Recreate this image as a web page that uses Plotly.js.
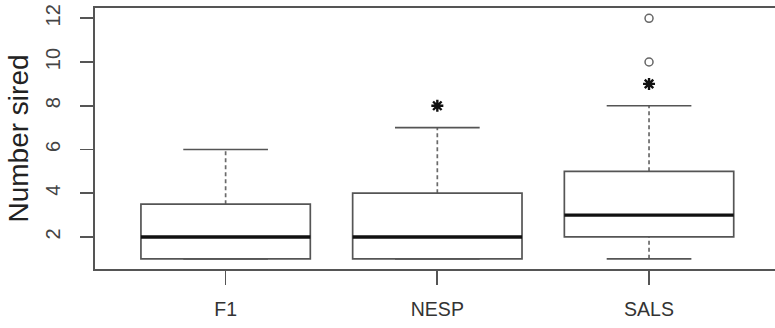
<!DOCTYPE html>
<html>
<head>
<meta charset="utf-8">
<script src="https://cdn.plot.ly/plotly-3.0.1.min.js"></script>
<style>html,body{margin:0;padding:0;background:#fff;}#chart{width:775px;height:328px;}</style>
</head>
<body>
<div id="chart"></div>
<script>
// Data
const categories = ['F1', 'NESP', 'SALS'];
const lowerWhisker = [1, 1, 1];
const q1 = [1, 1, 2];
const median = [2, 2, 3];
const q3 = [3.5, 4, 5];
const upperWhisker = [6, 7, 8];
const circleOutlierGroup = ['SALS', 'SALS'];
const circleOutlierValue = [12, 10];
const starOutlierGroup = ['NESP', 'SALS'];
const starOutlierValue = [8, 9];
const yTicks = [2, 4, 6, 8, 10, 12];

const pos = c => categories.indexOf(c) + 1;
const boxHalf = 0.4, capHalf = 0.2;
const frameColor = '#555555', boxColor = '#555555', whiskerColor = '#6a6a6a';

const shapes = [];
categories.forEach((c, i) => {
  const x = i + 1;
  shapes.push({type:'line', xref:'x', yref:'y', x0:x, x1:x, y0:q3[i], y1:upperWhisker[i], line:{color:whiskerColor, width:1.7, dash:'4px,3px'}});
  shapes.push({type:'line', xref:'x', yref:'y', x0:x, x1:x, y0:lowerWhisker[i], y1:q1[i], line:{color:whiskerColor, width:1.7, dash:'4px,3px'}});
  shapes.push({type:'line', xref:'x', yref:'y', x0:x-capHalf, x1:x+capHalf, y0:upperWhisker[i], y1:upperWhisker[i], line:{color:boxColor, width:1.7}});
  shapes.push({type:'line', xref:'x', yref:'y', x0:x-capHalf, x1:x+capHalf, y0:lowerWhisker[i], y1:lowerWhisker[i], line:{color:boxColor, width:1.7}});
  shapes.push({type:'rect', xref:'x', yref:'y', x0:x-boxHalf, x1:x+boxHalf, y0:q1[i], y1:q3[i], line:{color:boxColor, width:1.7}, fillcolor:'rgba(255,255,255,1)'});
  shapes.push({type:'line', xref:'x', yref:'y', x0:x-boxHalf, x1:x+boxHalf, y0:median[i], y1:median[i], line:{color:'#111111', width:3.4}});
});

const traces = [
  {type:'scatter', mode:'markers', x:circleOutlierGroup.map(pos), y:circleOutlierValue,
   marker:{symbol:'circle-open', size:8, color:'#666666', line:{width:1.5, color:'#666666'}}, hoverinfo:'y'},
  {type:'scatter', mode:'markers', x:starOutlierGroup.map(pos), y:starOutlierValue,
   marker:{symbol:'asterisk-open', size:10, color:'#111111', line:{width:2.4, color:'#111111'}}, hoverinfo:'y'}
];

const layout = {
  width: 775, height: 328,
  margin: {l:95, r:0, t:8, b:59},
  paper_bgcolor:'#ffffff', plot_bgcolor:'#ffffff',
  showlegend:false,
  font:{family:'Liberation Sans, Arial, sans-serif', color:'#333333'},
  xaxis:{
    range:[0.383, 3.595], tickvals:[1,2,3], ticktext:categories,
    showgrid:false, zeroline:false, showline:true, mirror:true, linecolor:frameColor, linewidth:1.7,
    ticks:'outside', ticklen:14, tickwidth:1.7, tickcolor:frameColor,
    tickfont:{size:19.5, color:'#333333'}, ticklabelstandoff:8
  },
  yaxis:{
    range:[0.534, 12.47], tickvals:yTicks, ticktext:yTicks.map(String),
    showgrid:false, zeroline:false, showline:true, mirror:false, linecolor:frameColor, linewidth:1.7,
    ticks:'outside', ticklen:13, tickwidth:1.7, tickcolor:frameColor,
    tickangle:-90, tickfont:{size:20, color:'#444444'}, ticklabelstandoff:12,
    title:{text:'Number sired', font:{size:28, color:'#222222'}, standoff:5}
  },
  shapes: shapes
};

Plotly.newPlot('chart', traces, layout, {displayModeBar:false, staticPlot:true});
</script>
</body>
</html>
